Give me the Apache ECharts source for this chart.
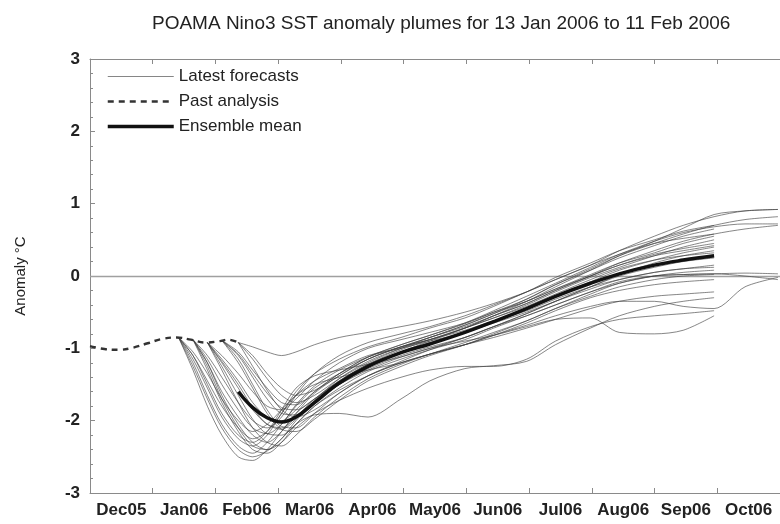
<!DOCTYPE html>
<html><head><meta charset="utf-8">
<script src="https://cdn.jsdelivr.net/npm/echarts@6/dist/echarts.min.js"></script>
<style>html,body{margin:0;padding:0;background:#fff}#c{width:780px;height:524px}</style>
</head><body><div id="c"></div>
<script>
// ---- tick labels ----
const monthLabels = ['Dec05','Jan06','Feb06','Mar06','Apr06','May06','Jun06','Jul06','Aug06','Sep06','Oct06'];
const yTicks = [-3,-2,-1,0,1,2,3];

// ---- past analysis ----
const analysisDates = ['2005-12-01','2005-12-08','2005-12-15','2005-12-22','2005-12-29','2006-01-05','2006-01-12','2006-01-19','2006-01-26','2006-02-02','2006-02-06','2006-02-11'];
const analysisValues = [-0.97,-1.01,-1.02,-0.99,-0.93,-0.87,-0.85,-0.88,-0.92,-0.90,-0.88,-0.92];

// ---- forecast sample dates ----
const fcDates = ['2006-01-13','2006-01-20','2006-01-27','2006-02-03','2006-02-11','2006-02-18','2006-02-25','2006-03-04','2006-03-11','2006-03-20','2006-04-01','2006-04-15','2006-05-01','2006-05-15','2006-06-01','2006-06-15','2006-07-01','2006-07-15','2006-08-01','2006-08-15','2006-09-01','2006-09-15','2006-09-30','2006-10-15','2006-10-31'];

// ---- ensemble members (latest forecasts) ----
const a1 = [-0.85,-1.30,-1.80,-2.20,-2.50,-2.55,-2.40,-2.15,-1.90,-1.70,-1.50,-1.30,-1.12,-1.00,-0.85,-0.70,-0.52,-0.35,-0.15,0.00,0.12,0.20,0.25,null,null];
const a2 = [-0.85,-1.20,-1.65,-2.05,-2.35,-2.45,-2.30,-2.05,-1.80,-1.55,-1.35,-1.15,-0.98,-0.88,-0.72,-0.55,-0.38,-0.20,0.00,0.15,0.30,0.38,0.45,null,null];
const a3 = [-0.85,-1.15,-1.55,-1.95,-2.25,-2.35,-2.20,-1.90,-1.65,-1.45,-1.28,-1.10,-1.00,-0.90,-0.78,-0.65,-0.50,-0.35,-0.18,-0.05,0.05,0.10,0.15,null,null];
const a4 = [-0.85,-1.10,-1.45,-1.80,-2.10,-2.25,-2.15,-1.90,-1.60,-1.35,-1.15,-0.98,-0.85,-0.72,-0.58,-0.42,-0.22,-0.05,0.15,0.30,0.45,0.52,0.58,null,null];
const a5 = [-0.85,-1.05,-1.35,-1.70,-2.00,-2.15,-2.05,-1.85,-1.65,-1.50,-1.40,-1.30,-1.20,-1.08,-0.95,-0.85,-0.72,-0.60,-0.45,-0.35,-0.28,-0.25,-0.22,null,null];
const a6 = [-0.85,-1.25,-1.70,-2.10,-2.40,-2.50,-2.42,-2.25,-2.05,-1.92,-1.90,-1.95,-1.70,-1.45,-1.28,-1.24,-1.18,-0.95,-0.72,-0.55,-0.42,-0.35,-0.30,null,null];
const a7 = [-0.85,-1.10,-1.50,-1.90,-2.20,-2.30,-2.15,-1.85,-1.55,-1.38,-1.30,-1.22,-1.12,-1.00,-0.90,-0.82,-0.70,-0.60,-0.58,-0.78,-0.80,-0.75,-0.55,null,null];
const b1 = [null,-0.88,-1.25,-1.70,-2.10,-2.35,-2.40,-2.25,-2.00,-1.75,-1.50,-1.28,-1.10,-0.98,-0.85,-0.70,-0.52,-0.35,-0.15,0.02,0.18,0.28,0.35,null,null];
const b2 = [null,-0.88,-1.20,-1.60,-1.95,-2.20,-2.30,-2.15,-1.90,-1.62,-1.38,-1.15,-0.98,-0.85,-0.68,-0.52,-0.35,-0.18,0.02,0.18,0.32,0.45,0.55,null,null];
const b3 = [null,-0.88,-1.15,-1.50,-1.85,-2.10,-2.18,-2.05,-1.78,-1.52,-1.30,-1.12,-0.98,-0.88,-0.75,-0.62,-0.48,-0.32,-0.15,-0.05,0.05,0.10,0.12,null,null];
const b4 = [null,-0.88,-1.30,-1.75,-2.15,-2.40,-2.45,-2.30,-2.05,-1.80,-1.58,-1.38,-1.20,-1.08,-0.95,-0.82,-0.65,-0.48,-0.30,-0.20,-0.12,-0.08,-0.05,null,null];
const b5 = [null,-0.88,-1.10,-1.40,-1.75,-2.00,-2.10,-1.95,-1.65,-1.35,-1.10,-0.92,-0.80,-0.70,-0.55,-0.40,-0.22,-0.02,0.18,0.35,0.50,0.62,0.70,null,null];
const b6 = [null,-0.88,-1.20,-1.65,-2.05,-2.30,-2.40,-2.30,-2.10,-1.90,-1.72,-1.55,-1.40,-1.30,-1.25,-1.25,-1.15,-0.90,-0.70,-0.60,-0.55,-0.52,-0.48,null,null];
const c1 = [null,null,-0.92,-1.20,-1.55,-1.85,-2.05,-2.10,-1.95,-1.70,-1.45,-1.22,-1.05,-0.92,-0.78,-0.62,-0.45,-0.28,-0.08,0.08,0.22,0.32,0.40,null,null];
const c2 = [null,null,-0.92,-1.15,-1.45,-1.75,-1.95,-2.00,-1.85,-1.60,-1.35,-1.12,-0.95,-0.82,-0.66,-0.50,-0.32,-0.12,0.08,0.25,0.42,0.55,0.65,null,null];
const c3 = [null,null,-0.92,-1.25,-1.65,-1.98,-2.18,-2.20,-2.05,-1.80,-1.55,-1.32,-1.15,-1.02,-0.88,-0.72,-0.55,-0.40,-0.22,-0.10,0.00,0.05,0.08,null,null];
const c4 = [null,null,-0.92,-1.10,-1.35,-1.60,-1.80,-1.85,-1.70,-1.45,-1.20,-1.00,-0.88,-0.78,-0.65,-0.50,-0.35,-0.18,0.00,0.15,0.28,0.35,0.42,null,null];
const c5 = [null,null,-0.92,-1.30,-1.75,-2.10,-2.30,-2.35,-2.20,-1.95,-1.68,-1.42,-1.22,-1.08,-0.92,-0.78,-0.62,-0.45,-0.28,-0.15,-0.05,0.00,0.02,null,null];
const c6 = [null,null,-0.92,-1.18,-1.50,-1.82,-2.05,-2.12,-1.98,-1.72,-1.42,-1.18,-1.00,-0.88,-0.72,-0.58,-0.40,-0.22,-0.02,0.12,0.28,0.40,0.50,null,null];
const d1 = [null,null,null,-0.89,-1.10,-1.40,-1.70,-1.90,-1.92,-1.75,-1.50,-1.25,-1.05,-0.90,-0.72,-0.55,-0.35,-0.15,0.08,0.28,0.48,0.66,0.85,0.90,0.92];
const d2 = [null,null,null,-0.89,-1.05,-1.30,-1.55,-1.75,-1.78,-1.60,-1.35,-1.12,-0.95,-0.82,-0.65,-0.48,-0.28,-0.10,0.12,0.30,0.48,0.60,0.68,0.72,0.72];
const d3 = [null,null,null,-0.89,-1.15,-1.50,-1.85,-2.08,-2.10,-1.90,-1.62,-1.38,-1.20,-1.08,-0.95,-0.82,-0.68,-0.55,-0.42,-0.35,-0.35,-0.42,-0.45,-0.15,-0.02];
const d4 = [null,null,null,-0.89,-1.08,-1.35,-1.62,-1.82,-1.85,-1.70,-1.45,-1.22,-1.02,-0.88,-0.72,-0.58,-0.42,-0.25,-0.05,0.10,0.22,0.28,0.32,null,null];
const d5 = [null,null,null,-0.89,-1.20,-1.55,-1.90,-2.12,-2.15,-1.98,-1.72,-1.45,-1.25,-1.10,-0.95,-0.80,-0.62,-0.45,-0.25,-0.10,0.00,0.02,0.03,0.04,0.03];
const e1 = [null,null,null,null,-0.92,-0.98,-1.05,-1.10,-1.05,-0.95,-0.85,-0.78,-0.70,-0.62,-0.50,-0.38,-0.22,-0.05,0.15,0.35,0.55,0.70,0.82,0.90,0.92];
const e2 = [null,null,null,null,-0.92,-1.15,-1.42,-1.65,-1.75,-1.65,-1.42,-1.20,-1.00,-0.85,-0.68,-0.52,-0.32,-0.12,0.10,0.28,0.45,0.58,0.70,0.78,0.82];
const e3 = [null,null,null,null,-0.92,-1.25,-1.58,-1.85,-1.95,-1.85,-1.62,-1.38,-1.18,-1.02,-0.85,-0.70,-0.55,-0.40,-0.22,-0.08,0.00,0.02,0.03,0.00,-0.05];
const e4 = [null,null,null,null,-0.92,-1.10,-1.35,-1.55,-1.65,-1.58,-1.38,-1.15,-0.98,-0.85,-0.70,-0.55,-0.38,-0.20,0.00,0.18,0.35,0.48,0.58,0.65,0.70];
const members = [a1,a2,a3,a4,a5,a6,a7,b1,b2,b3,b4,b5,b6,c1,c2,c3,c4,c5,c6,d1,d2,d3,d4,d5,e1,e2,e3,e4];

// ---- ensemble mean ----
const meanDates = ['2006-02-11','2006-02-18','2006-02-25','2006-03-04','2006-03-11','2006-03-20','2006-04-01','2006-04-15','2006-05-01','2006-05-15','2006-06-01','2006-06-15','2006-07-01','2006-07-15','2006-08-01','2006-08-15','2006-09-01','2006-09-15','2006-09-30'];
const meanValues = [-1.60,-1.82,-1.96,-2.02,-1.95,-1.75,-1.48,-1.25,-1.06,-0.94,-0.78,-0.63,-0.45,-0.28,-0.10,0.03,0.15,0.22,0.28];

const FONT = 'Liberation Sans';
const TXT = '#222';
const AX = '#8a8a8a';
const THIN = 'rgba(60,60,60,0.62)';

function pairs(dates, vals){
  const out = [];
  for (let i = 0; i < dates.length; i++) if (vals[i] !== null && vals[i] !== undefined) out.push([dates[i], vals[i]]);
  return out;
}

const series = [];
members.forEach(m => {
  series.push({
    name: 'Latest forecasts', type: 'line', xAxisIndex: 0, yAxisIndex: 0,
    data: pairs(fcDates, m), showSymbol: false, symbol: 'none', smooth: 0.3,
    lineStyle: { color: THIN, width: 1 }, itemStyle: { color: THIN },
    silent: true, z: 2
  });
});
series.push({
  name: 'Past analysis', type: 'line', data: pairs(analysisDates, analysisValues),
  symbol: 'none', smooth: 0.4,
  lineStyle: { color: '#333', width: 2.4, type: [6, 5] }, itemStyle: { color: '#333' }, z: 4
});
series.push({
  name: 'Ensemble mean', type: 'line', data: pairs(meanDates, meanValues),
  symbol: 'none', smooth: 0.4,
  lineStyle: { color: '#111', width: 3.5 }, itemStyle: { color: '#111' }, z: 5,
  markLine: {
    silent: true, symbol: 'none', label: { show: false },
    lineStyle: { color: '#a0a0a0', width: 1.3, type: 'solid' },
    data: [{ yAxis: 0 }], z: 1
  }
});

const chart = echarts.init(document.getElementById('c'), null, { renderer: 'canvas' });
chart.setOption({
  animation: false,
  backgroundColor: '#fff',
  textStyle: { fontFamily: FONT, color: TXT },
  title: {
    text: 'POAMA Nino3 SST anomaly plumes for 13 Jan 2006 to 11 Feb 2006',
    left: 147, top: 9,
    textStyle: { fontFamily: FONT, fontSize: 19, fontWeight: 'normal', color: TXT }
  },
  legend: {
    orient: 'vertical', left: 101, top: 63,
    data: ['Latest forecasts', 'Past analysis', 'Ensemble mean'],
    itemWidth: 66, itemHeight: 14, itemGap: 8,
    itemStyle: { opacity: 0 },
    lineStyle: { width: 'inherit' },
    textStyle: { fontFamily: FONT, fontSize: 17, color: TXT },
    selectedMode: false
  },
  grid: { left: 90, top: 59, right: -3, bottom: 31, containLabel: false },
  xAxis: [
    { type: 'time', min: '2005-12-01', max: '2006-11-01', show: false, gridIndex: 0 },
    { type: 'category', data: monthLabels, position: 'bottom', boundaryGap: true, gridIndex: 0,
      axisLine: { show: true, lineStyle: { color: AX, width: 1 } },
      axisTick: { show: true, inside: true, length: 5, alignWithLabel: false, interval: 0, lineStyle: { color: AX } },
      axisLabel: { show: true, interval: 0, fontFamily: FONT, fontSize: 17, fontWeight: 'bold', color: TXT, margin: 9 },
      splitLine: { show: false } },
    { type: 'category', data: monthLabels, position: 'top', boundaryGap: true, gridIndex: 0,
      axisLine: { show: true, lineStyle: { color: AX, width: 1 } },
      axisTick: { show: true, inside: true, length: 5, interval: 0, lineStyle: { color: AX } },
      axisLabel: { show: false }, splitLine: { show: false } }
  ],
  yAxis: [{
    type: 'value', min: yTicks[0], max: yTicks[yTicks.length - 1], interval: 1,
    name: 'Anomaly \u00B0C', nameLocation: 'middle', nameRotate: 90, nameGap: 62,
    nameTextStyle: { fontFamily: FONT, fontSize: 15, color: TXT },
    axisLine: { show: true, lineStyle: { color: AX, width: 1 } },
    axisTick: { show: true, inside: true, length: 5, lineStyle: { color: AX } },
    minorTick: { show: true, splitNumber: 5, length: 3, lineStyle: { color: AX } },
    axisLabel: { fontFamily: FONT, fontSize: 17, fontWeight: 'bold', color: TXT, margin: 10 },
    splitLine: { show: false }
  }],
  series: series
});
</script>
</body></html>
